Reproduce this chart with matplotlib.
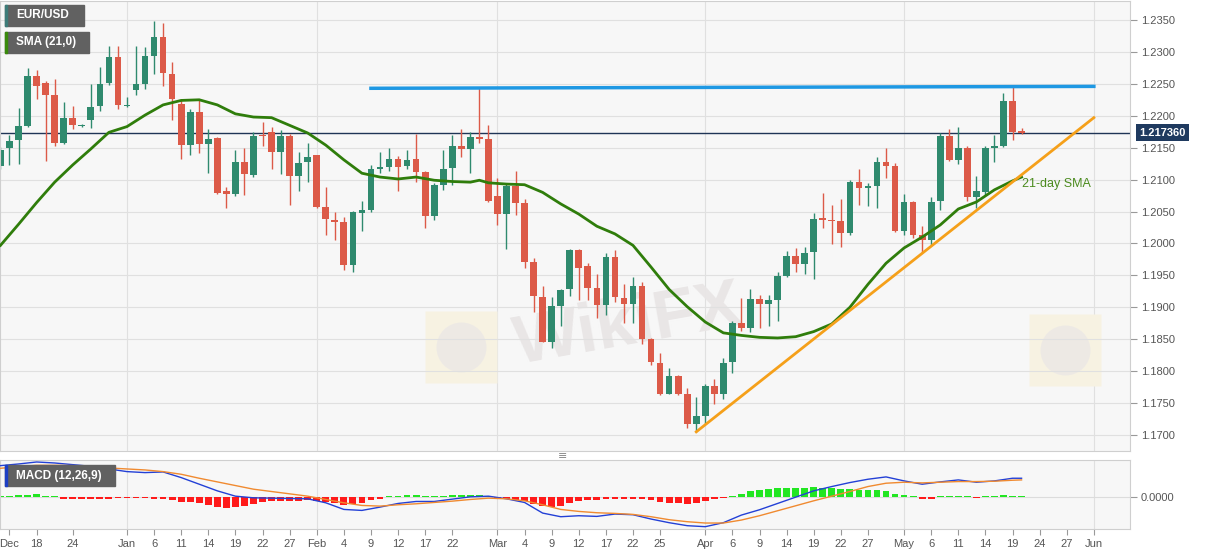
import matplotlib
matplotlib.use('Agg')
import matplotlib.pyplot as plt
import numpy as np
import pandas as pd
from matplotlib.patches import Rectangle
from matplotlib.ticker import FormatStrFormatter

plt.rcParams['font.family'] = ['Liberation Sans', 'DejaVu Sans']

# EUR/USD daily candles, 14 Dec 2020 .. 20 May 2021 (weekdays)
days = pd.bdate_range('2020-12-14', '2021-06-01')

opens = [1.2122, 1.2149, 1.2162, 1.2184, 1.2263, 1.2251, 1.2232, 1.2158, 1.2196, 1.2184,
         1.2194, 1.2215, 1.2251, 1.2292, 1.2215, 1.2240, 1.2250, 1.2294, 1.2324, 1.2266,
         1.2218, 1.2154, 1.2206, 1.2155, 1.2165, 1.2082, 1.2077, 1.2127, 1.2107, 1.2169,
         1.2174, 1.2143, 1.2168, 1.2105, 1.2127, 1.2138, 1.2057, 1.2037, 1.2033, 1.1967,
         1.2048, 1.2052, 1.2117, 1.2120, 1.2133, 1.2121, 1.2132, 1.2112, 1.2043, 1.2092,
         1.2118, 1.2152, 1.2148, 1.2167, 1.2163, 1.2075, 1.2046, 1.2090, 1.2063, 1.1971,
         1.1916, 1.1846, 1.1902, 1.1928, 1.1990, 1.1965, 1.1930, 1.1903, 1.1979, 1.1915,
         1.1905, 1.1933, 1.1851, 1.1813, 1.1765, 1.1793, 1.1765, 1.1718, 1.1730, 1.1777,
         1.1764, 1.1815, 1.1876, 1.1868, 1.1913, 1.1905, 1.1911, 1.1949, 1.1981, 1.1968,
         1.1986, 1.2040, 1.2036, 1.2035, 1.2016, 1.2097, 1.2087, 1.2090, 1.2127, 1.2122,
         1.2020, 1.2065, 1.2014, 1.2006, 1.2066, 1.2168, 1.2130, 1.2149, 1.2073, 1.2081,
         1.2150, 1.2153, 1.2223, 1.2176]
highs = [1.2151, 1.2170, 1.2212, 1.2274, 1.2272, 1.2254, 1.2258, 1.2221, 1.2215, 1.2187,
         1.2250, 1.2276, 1.2310, 1.2310, 1.2229, 1.2310, 1.2307, 1.2349, 1.2345, 1.2284,
         1.2226, 1.2210, 1.2224, 1.2179, 1.2167, 1.2088, 1.2146, 1.2149, 1.2175, 1.2190,
         1.2183, 1.2177, 1.2171, 1.2143, 1.2157, 1.2139, 1.2088, 1.2050, 1.2042, 1.2051,
         1.2067, 1.2123, 1.2144, 1.2150, 1.2137, 1.2146, 1.2171, 1.2113, 1.2094, 1.2146,
         1.2170, 1.2180, 1.2175, 1.2243, 1.2185, 1.2102, 1.2094, 1.2113, 1.2069, 1.1978,
         1.1933, 1.1916, 1.1928, 1.1991, 1.1991, 1.1970, 1.1952, 1.1985, 1.1990, 1.1937,
         1.1947, 1.1940, 1.1852, 1.1828, 1.1805, 1.1794, 1.1774, 1.1760, 1.1780, 1.1787,
         1.1820, 1.1879, 1.1914, 1.1928, 1.1920, 1.1920, 1.1956, 1.1988, 1.1993, 1.1995,
         1.2048, 1.2079, 1.2060, 1.2070, 1.2100, 1.2117, 1.2094, 1.2135, 1.2150, 1.2126,
         1.2077, 1.2066, 1.2027, 1.2073, 1.2173, 1.2179, 1.2182, 1.2152, 1.2106, 1.2152,
         1.2170, 1.2235, 1.2245, 1.2181]
lows = [1.2116, 1.2123, 1.2125, 1.2183, 1.2226, 1.2129, 1.2152, 1.2155, 1.2179, 1.2183,
        1.2181, 1.2207, 1.2248, 1.2210, 1.2214, 1.2232, 1.2242, 1.2266, 1.2246, 1.2194,
        1.2133, 1.2138, 1.2141, 1.2111, 1.2077, 1.2055, 1.2075, 1.2076, 1.2104, 1.2152,
        1.2116, 1.2108, 1.2060, 1.2082, 1.2096, 1.2056, 1.2013, 1.2005, 1.1958, 1.1955,
        1.2020, 1.2049, 1.2110, 1.2114, 1.2082, 1.2116, 1.2096, 1.2024, 1.2037, 1.2084,
        1.2092, 1.2136, 1.2110, 1.2157, 1.2065, 1.2029, 1.1992, 1.2044, 1.1962, 1.1893,
        1.1845, 1.1836, 1.1871, 1.1918, 1.1911, 1.1912, 1.1883, 1.1888, 1.1908, 1.1875,
        1.1875, 1.1843, 1.1810, 1.1762, 1.1764, 1.1762, 1.1711, 1.1705, 1.1717, 1.1748,
        1.1756, 1.1797, 1.1863, 1.1862, 1.1867, 1.1871, 1.1879, 1.1948, 1.1956, 1.1952,
        1.1944, 1.2024, 1.1999, 1.1995, 1.2014, 1.2061, 1.2058, 1.2056, 1.2103, 1.2018,
        1.2014, 1.2008, 1.1986, 1.1997, 1.2053, 1.2129, 1.2124, 1.2067, 1.2055, 1.2076,
        1.2127, 1.2151, 1.2162, 1.2171]
closes = [1.2147, 1.2161, 1.2184, 1.2263, 1.2247, 1.2233, 1.2157, 1.2196, 1.2185, 1.2185,
          1.2213, 1.2250, 1.2292, 1.2217, 1.2216, 1.2250, 1.2294, 1.2324, 1.2267, 1.2226,
          1.2154, 1.2206, 1.2155, 1.2164, 1.2079, 1.2078, 1.2127, 1.2108, 1.2169, 1.2168,
          1.2143, 1.2168, 1.2105, 1.2126, 1.2135, 1.2057, 1.2038, 1.2034, 1.1967, 1.2049,
          1.2052, 1.2117, 1.2120, 1.2133, 1.2119, 1.2131, 1.2112, 1.2043, 1.2092, 1.2117,
          1.2152, 1.2148, 1.2167, 1.2164, 1.2067, 1.2046, 1.2090, 1.2064, 1.1971, 1.1918,
          1.1846, 1.1902, 1.1927, 1.1990, 1.1961, 1.1930, 1.1903, 1.1979, 1.1916, 1.1905,
          1.1933, 1.1851, 1.1814, 1.1765, 1.1793, 1.1765, 1.1718, 1.1730, 1.1777, 1.1764,
          1.1813, 1.1876, 1.1868, 1.1913, 1.1905, 1.1911, 1.1949, 1.1981, 1.1968, 1.1985,
          1.2039, 1.2037, 1.2035, 1.2016, 1.2097, 1.2087, 1.2090, 1.2127, 1.2122, 1.2020,
          1.2065, 1.2014, 1.2006, 1.2065, 1.2168, 1.2130, 1.2149, 1.2073, 1.2082, 1.2150,
          1.2153, 1.2223, 1.2175, 1.21736]
last_price = 1.21736

# 21-day SMA (day index, value)
sma_idx = [0, 2, 4, 6, 8, 10, 12, 14, 16, 18, 20, 22, 24, 26, 28, 30, 32, 34, 36, 38,
           40, 42, 44, 46, 48, 50, 52, 53, 54, 56, 58, 60, 62, 64, 66, 68, 70, 72, 74, 76,
           78, 80, 82, 84, 86, 88, 90, 92, 94, 96, 98, 100, 102, 104, 106, 108, 110, 112, 113]
sma_val = [1.1997, 1.2030, 1.2064, 1.2096, 1.2123, 1.2148, 1.2174, 1.2183, 1.2201, 1.2217,
           1.2224, 1.2225, 1.2217, 1.2203, 1.2198, 1.2197, 1.2185, 1.2173, 1.2154, 1.2131,
           1.2110, 1.2104, 1.2101, 1.2104, 1.2099, 1.2097, 1.2096, 1.2099, 1.2095, 1.2093,
           1.2092, 1.2080, 1.2062, 1.2046, 1.2027, 1.2015, 1.1997, 1.1963, 1.1928, 1.1901,
           1.1877, 1.1860, 1.1856, 1.1853, 1.1852, 1.1854, 1.1862, 1.1874, 1.1900, 1.1936,
           1.1969, 1.1993, 1.2010, 1.2029, 1.2054, 1.2065, 1.2084, 1.2098, 1.2104]

# trend lines
resist_idx = [41, 121]
resist_val = [1.2243, 1.2246]
support_idx = [77, 121]
support_val = [1.1705, 1.2197]

# MACD (12,26,9), in units of 1e-5
macd_idx = list(range(0, 113, 2)) + [113]
macd_line = [96, 101, 107, 104, 99, 94, 86, 78, 75, 77,
             60, 40, 20, 4, -1, -2, -3, -4, -16, -36,
             -39, -29, -18, -12, -12, -5, 2, 4, -4, -15,
             -47, -58, -55, -57, -50, -52, -65, -76, -85, -88,
             -76, -53, -37, -18, 1, 20, 33, 45, 55, 62,
             50, 40, 47, 53, 46, 50, 58, 58]
signal_line = [88, 93, 97, 97, 96, 93, 89, 86, 83, 78,
               70, 58, 47, 36, 25, 18, 11, 4, -6, -16,
               -24, -26, -22, -19, -15, -11, -6, -2, -4, -10,
               -22, -36, -42, -46, -48, -51, -58, -67, -73, -77,
               -77, -68, -55, -40, -25, -10, 4, 18, 33, 43,
               46, 44, 46, 48, 48, 49, 52, 53]
hist = [4, 5, 6, 9, 10, 5, 0,
        -4, -5, -5, -5, -4, -4, -3, -3, -3, -3, -4, -5, -8, -13, -15, -18, -22, -28, -32,
        -30, -26, -20, -14, -11, -10, -11, -10, -9, -12, -15, -18, -22, -20, -16, -8, -4,
        3, 5, 7, 6, 3, 4, 5, 6, 8, 9, 9, 5,
        -1, -4, -8, -12, -20, -26, -30, -26, -18, -12, -8, -8,
        -6, -5, -5, -5, -6, -9, -15, -16, -16, -19, -17, -10, -6, -1,
        5, 12, 20, 23, 25, 28, 30, 30, 30, 31, 30, 28, 27, 26, 24, 24, 22, 20, 10, 7, 1,
        -4, -4, 3, 4, 4, 1, -1, 1, 1, 6, 5, 4]

tick_dates = ['2020-12-15', '2020-12-18', '2020-12-24', '2021-01-01', '2021-01-06', '2021-01-11',
              '2021-01-14', '2021-01-19', '2021-01-22', '2021-01-27', '2021-02-01', '2021-02-04',
              '2021-02-09', '2021-02-12', '2021-02-17', '2021-02-22', '2021-03-01', '2021-03-04',
              '2021-03-09', '2021-03-12', '2021-03-17', '2021-03-22', '2021-03-25', '2021-04-01',
              '2021-04-06', '2021-04-09', '2021-04-14', '2021-04-19', '2021-04-22', '2021-04-27',
              '2021-05-03', '2021-05-06', '2021-05-11', '2021-05-14', '2021-05-19', '2021-05-24',
              '2021-05-27', '2021-06-01']
tick_labels = ['Dec', '18', '24', 'Jan', '6', '11', '14', '19', '22', '27', 'Feb', '4', '9', '12',
               '17', '22', 'Mar', '4', '9', '12', '17', '22', '25', 'Apr', '6', '9', '14', '19',
               '22', '27', 'May', '6', '11', '14', '19', '24', '27', 'Jun']
month_dates = ['2021-01-01', '2021-02-01', '2021-03-01', '2021-04-01', '2021-05-03', '2021-06-01']

W, H = 1207, 555
fig = plt.figure(figsize=(W / 100, H / 100), dpi=100)
fig.patch.set_facecolor('white')


def fx(x):
    return x / W


def fy(y):
    return 1 - y / H


ax = fig.add_axes([0, fy(451), fx(1130), (451 - 1) / H])
ax2 = fig.add_axes([0, fy(529), fx(1130), (529 - 460) / H])

tick_pos = [days.get_loc(pd.Timestamp(d)) for d in tick_dates]
month_pos = [days.get_loc(pd.Timestamp(d)) for d in month_dates]

for a in (ax, ax2):
    a.set_facecolor('#f7f7f7')
    a.set_xlim(-0.05, 125)
    for s in a.spines.values():
        s.set_color('#cfcfcf')
        s.set_linewidth(0.8)
    for m in month_pos:
        a.axvline(m, color='#e0e0e0', lw=0.8, zorder=0)

# faint watermarks
for wx, wy in [(51, 1.1838), (117.8, 1.1833)]:
    ax.plot([wx], [wy], marker='s', ms=52, color='#f7f2e2', mec='none', zorder=0.3)
    ax.plot([wx], [wy], marker='o', ms=36, color='#e9e6e6', mec='none', alpha=0.7, zorder=0.35)
ax.text(69.5, 1.1870, 'WikiFX', fontsize=50, fontweight='bold', color='#e9e6e6',
        rotation=10, ha='center', va='center', zorder=0.4)

# main panel
ax.set_ylim(1.1675, 1.23797)
ax.set_yticks(np.arange(1.17, 1.2351, 0.005))
ax.yaxis.set_major_formatter(FormatStrFormatter('%.4f'))
ax.yaxis.tick_right()
ax.yaxis.grid(True, color='#e0e0e0', lw=0.8, zorder=0)
ax.tick_params(axis='y', length=5, color='#999999', labelcolor='#555555', labelsize=8, pad=3)
ax.tick_params(axis='x', length=0, labelbottom=False)

x = np.arange(len(opens))
o = np.array(opens)
c = np.array(closes)
up = c >= o
col = np.where(up, '#2f8a6e', '#dc5a48')
ax.vlines(x, lows, highs, colors=col, lw=1, zorder=2)
ax.bar(x, np.maximum(np.abs(c - o), 0.00012), bottom=np.minimum(o, c), width=0.74,
       color=col, linewidth=0, zorder=2.1)

ax.axhline(last_price, color='#1f3556', lw=1, zorder=1.5)
ax.plot(sma_idx, sma_val, color='#2f7d0b', lw=2, zorder=3)
ax.plot(resist_idx, resist_val, color='#1e98e3', lw=2.5, zorder=3)
ax.plot(support_idx, support_val, color='#f5a01a', lw=2, zorder=3)
ax.text(113.1, 1.2093, '21-day SMA', color='#4b8b1e', fontsize=9, ha='left', va='center', zorder=4)

ax.text(1.008, last_price, f'{last_price:.6f}', transform=ax.get_yaxis_transform(),
        color='white', fontsize=8, fontweight='bold', ha='left', va='center', clip_on=False,
        bbox=dict(boxstyle='square,pad=0.3', fc='#1f3a5f', ec='none'))

# MACD panel
ax2.set_ylim(-95, 113)
ax2.axhline(0, color='#dcdcdc', lw=0.8, zorder=0)
h = np.array(hist)
ax2.bar(x, np.where(h >= 0, np.maximum(h, 3), np.minimum(h, -3)), width=0.75,
        color=np.where(h >= 0, '#22e622', '#ff1a1a'), linewidth=0, zorder=2)
ax2.plot(macd_idx, macd_line, color='#2340d6', lw=1, zorder=3)
ax2.plot(macd_idx, signal_line, color='#f08a30', lw=1, zorder=3)
ax2.yaxis.tick_right()
ax2.set_yticks([0])
ax2.yaxis.set_major_formatter(lambda v, p: f'{v * 1e-5:.4f}')
ax2.tick_params(axis='y', length=5, color='#999999', labelcolor='#555555', labelsize=8, pad=3)
ax2.set_xticks(tick_pos)
ax2.set_xticklabels(tick_labels)
ax2.tick_params(axis='x', length=4, color='#999999', labelcolor='#555555', labelsize=8, pad=3)


# label boxes
def label_box(x0, y0, x1, y1, text, strip):
    fig.add_artist(Rectangle((fx(x0), fy(y1)), fx(x1 - x0), (y1 - y0) / H,
                             transform=fig.transFigure, color='#616161', zorder=5))
    fig.add_artist(Rectangle((fx(x0), fy(y1)), fx(2), (y1 - y0) / H,
                             transform=fig.transFigure, color=strip, zorder=6))
    fig.text(fx(x0 + 11), fy((y0 + y1) / 2), text, color='white', fontsize=8.5,
             fontweight='bold', ha='left', va='center', zorder=7)


label_box(5, 5, 84, 26, 'EUR/USD', '#3d7b78')
label_box(5, 32, 89, 53, 'SMA (21,0)', '#3a8a0c')
label_box(5, 465, 115, 486, 'MACD (12,26,9)', '#1d3fc4')

fig.text(fx(563), fy(456), '\u2261', color='#888888', fontsize=8, ha='center', va='center',
         family='DejaVu Sans')

fig.savefig('out.png', dpi=100)
